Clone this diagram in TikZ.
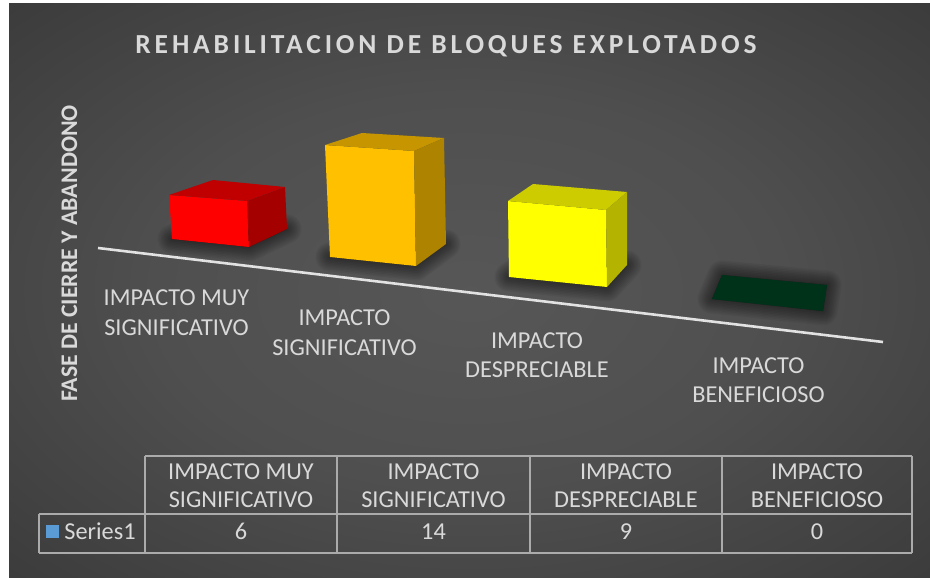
\documentclass[tikz,border=0pt]{standalone}
\usepackage{fontspec}
\setmainfont{Carlito}
\newfontfamily\titlefont[LetterSpace=14]{Carlito}
\definecolor{lbltext}{HTML}{D9D9D9}
\definecolor{axisline}{HTML}{E2E2E2}
\definecolor{gridline}{HTML}{ABABAB}
\definecolor{redfront}{HTML}{FF0000}
\definecolor{redtop}{HTML}{C00000}
\definecolor{redside}{HTML}{A40000}
\definecolor{orfront}{HTML}{FFC000}
\definecolor{ortop}{HTML}{C69500}
\definecolor{orside}{HTML}{AD8300}
\definecolor{yefront}{HTML}{FFFF00}
\definecolor{yetop}{HTML}{CCCC00}
\definecolor{yeside}{HTML}{B3B300}
\definecolor{grfront}{HTML}{00321A}
\definecolor{seriesblue}{HTML}{5B9BD5}
\pgfdeclareradialshading{bgs}{\pgfpoint{0bp}{0bp}}{rgb(0bp)=(0.34,0.34,0.34); rgb(17bp)=(0.31,0.31,0.31); rgb(34bp)=(0.24,0.24,0.24); rgb(50bp)=(0.175,0.175,0.175); rgb(71bp)=(0.145,0.145,0.145)}
\newcommand\softshadow[1]{%
  \fill[black,opacity=0.35] #1;
  \foreach \w in {2,5,...,29} {\draw[black,opacity=0.05,line width=\w pt,line join=round] #1;}}
\begin{document}
\begin{tikzpicture}[x=1pt,y=-1pt,
  lbl/.style={text=lbltext, font=\fontsize{24.3}{28}\selectfont, anchor=base, inner sep=0pt},
  ylbl/.style={text=lbltext, font=\fontsize{23.8}{28}\selectfont\bfseries, anchor=base, inner sep=0pt, rotate=90},
  ttl/.style={font=\fontsize{27.5}{32}\selectfont\titlefont\bfseries, anchor=base, inner sep=0pt},
  tline/.style={draw=gridline, line width=1.8pt}]
\useasboundingbox (0,0) rectangle (930,578);
\fill[white] (0,0) rectangle (930,578);
\shade[shading=bgs] (9,4) rectangle (930,578);

% title
\node[ttl, text=lbltext] (title) at (446,53.5) {REHABILITACION DE BLOQUES EXPLOTADOS};

% y axis title
\node[ylbl] (ytitle) at (77,253.5) {FASE DE CIERRE Y ABANDONO};

% shadows
\softshadow{(172,239)--(249,247)--(287,229)--(216,224)--cycle}
\softshadow{(330,257)--(416,266)--(446,244)--(367,245)--cycle}
\softshadow{(509,277)--(607,287)--(627,265)--(534,260)--cycle}
\softshadow{(722,275)--(827,285)--(823,311)--(712,299)--cycle}

% red box
\fill[redfront] (169,195)--(247,201)--(249,247)--(172,239)--cycle;
\fill[redtop] (169,195)--(213,180)--(285,187)--(247,201)--cycle;
\fill[redside] (247,201)--(285,187)--(287,229)--(249,247)--cycle;
% orange box
\fill[orfront] (325,145)--(414,151)--(416,266)--(330,257)--cycle;
\fill[ortop] (325,145)--(362,133)--(444,138)--(414,151)--cycle;
\fill[orside] (414,151)--(444,138)--(446,244)--(416,266)--cycle;
% yellow box
\fill[yefront] (508,201)--(606,210)--(607,287)--(509,277)--cycle;
\fill[yetop] (508,201)--(533,184)--(627,192)--(606,210)--cycle;
\fill[yeside] (606,210)--(627,192)--(627,265)--(607,287)--cycle;
% green (zero)
\fill[grfront] (722,275)--(827,285)--(823,311)--(712,299)--cycle;

% axis line
\coordinate (ax1) at (98,248);
\coordinate (ax2) at (883,342);
\draw[axisline, line width=2.6pt] (ax1) -- (ax2);

% category labels
\node[lbl] (c1a) at (176.5,305.8) {IMPACTO MUY};
\node[lbl] (c1b) at (176.5,335.3) {SIGNIFICATIVO};
\node[lbl] (c2a) at (344.5,325.3) {IMPACTO};
\node[lbl] (c2b) at (344.5,355.3) {SIGNIFICATIVO};
\node[lbl] (c3a) at (537,348.3) {IMPACTO};
\node[lbl] (c3b) at (537,377.3) {DESPRECIABLE};
\node[lbl] (c4a) at (758.5,373.3) {IMPACTO};
\node[lbl] (c4b) at (758.5,402.3) {BENEFICIOSO};

% data table
\draw[tline] (145,456) -- (912,456);
\draw[tline] (39,514) -- (912,514);
\draw[tline] (39,553) -- (912,553);
\draw[tline] (39,514) -- (39,553);
\foreach \x in {145,337,530,722,912} {\draw[tline] (\x,456) -- (\x,553);}

\node[lbl] (h1a) at (241,479.5) {IMPACTO MUY};
\node[lbl] (h1b) at (241,507.1) {SIGNIFICATIVO};
\node[lbl] (h2a) at (433.5,479.5) {IMPACTO};
\node[lbl] (h2b) at (433.5,507.1) {SIGNIFICATIVO};
\node[lbl] (h3a) at (626,479.5) {IMPACTO};
\node[lbl] (h3b) at (626,507.1) {DESPRECIABLE};
\node[lbl] (h4a) at (817,479.5) {IMPACTO};
\node[lbl] (h4b) at (817,507.1) {BENEFICIOSO};

\node[fill=seriesblue, minimum size=13pt, inner sep=0pt] (sq) at (52.5,531) {};
\node[lbl] (ser) at (100,539.7) {Series1};
\node[lbl] (v1) at (241,539.7) {6};
\node[lbl] (v2) at (433.5,539.7) {14};
\node[lbl] (v3) at (626,539.7) {9};
\node[lbl] (v4) at (817,539.7) {0};
\end{tikzpicture}
\end{document}
